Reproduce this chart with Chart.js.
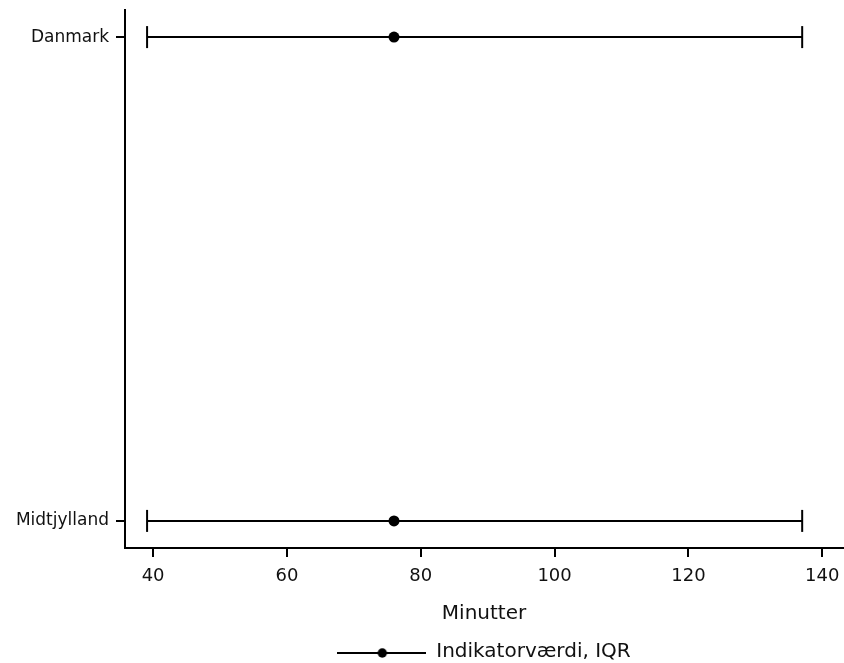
<!DOCTYPE html>
<html><head><meta charset="utf-8">
<script src="https://cdn.jsdelivr.net/npm/chart.js@4/dist/chart.umd.min.js"></script>
<style>html,body{margin:0;padding:0;background:#fff}#wrap{width:844px;height:663px}</style>
</head><body><div id="wrap"><canvas id="c" width="844" height="663"></canvas></div>
<script>
const categories = ['Danmark', 'Midtjylland'];
const medians = [76, 76];
const q1 = [39.1, 39.1];
const q3 = [137, 137];
const xTicks = [40, 60, 80, 100, 120, 140];
const seriesLabel = 'Indikatorværdi, IQR';
const xTitle = 'Minutter';

const FONT = 'DejaVu Sans';

// legend symbol: line with dot
const sym = document.createElement('canvas');
sym.width = 89; sym.height = 16;
(function(){const g=sym.getContext('2d');g.strokeStyle='#000';g.lineWidth=2;g.beginPath();g.moveTo(0,9);g.lineTo(89,9);g.stroke();g.fillStyle='#000';g.beginPath();g.arc(45,9,4.7,0,Math.PI*2);g.fill();})();

const datasets = [];
categories.forEach((c,i)=>{
  datasets.push({
    type:'line', label:'iqr'+i,
    data:[{x:q1[i],y:i},{x:q3[i],y:i}],
    borderColor:'#000', borderWidth:2, showLine:true,
    pointStyle:'line', pointRotation:90, pointRadius:11,
    pointBorderWidth:2, pointBorderColor:'#000', pointBackgroundColor:'#000'
  });
});
datasets.push({
  type:'scatter', label:seriesLabel,
  data:categories.map((c,i)=>({x:medians[i],y:i})),
  pointStyle:'circle', pointRadius:5.5, backgroundColor:'#000', borderColor:'#000', borderWidth:0
});

const legendShift = {
  id:'legendShift',
  afterLayout(chart){
    if(chart.legend){ chart.legend.left = chart.chartArea.left; chart.legend.right = chart.chartArea.right; }
  }
};

new Chart(document.getElementById('c'), {
  type:'scatter',
  data:{datasets},
  plugins:[legendShift],
  options:{
    responsive:false, animation:false, events:[],
    layout:{autoPadding:false, padding:{left:0,right:1,top:10,bottom:-9}},
    scales:{
      x:{
        type:'linear', min:35.8, max:143.1,
        afterBuildTicks:(s)=>{s.ticks = xTicks.map(v=>({value:v}));},
        afterFit:(s)=>{s.height = 92; s.paddingLeft = 0; s.paddingRight = 0;},
        grid:{display:true, drawOnChartArea:false, drawTicks:true, tickLength:9, color:'#000', lineWidth:2},
        border:{display:true, color:'#000', width:2},
        ticks:{color:'#111', font:{family:FONT,size:18}, padding:9, maxRotation:0},
        title:{display:true, text:xTitle, color:'#111', font:{family:FONT,size:20}, padding:{top:8,bottom:14}}
      },
      y:{
        type:'linear', min:-0.056, max:1.056, reverse:true,
        afterBuildTicks:(s)=>{s.ticks = categories.map((c,i)=>({value:i}));},
        afterFit:(s)=>{s.width = 125; s.paddingTop = 0; s.paddingBottom = 0;},
        grid:{display:true, drawOnChartArea:false, drawTicks:true, tickLength:9, color:'#000', lineWidth:2},
        border:{display:true, color:'#000', width:2},
        ticks:{color:'#111', font:{family:FONT,size:17}, padding:7, callback:(v)=>categories[v]}
      }
    },
    plugins:{
      tooltip:{enabled:false},
      legend:{
        display:true, position:'bottom',
        labels:{
          color:'#111', font:{family:FONT,size:20}, usePointStyle:true, pointStyleWidth:89, padding:2,
          generateLabels:(chart)=>[{text:seriesLabel, pointStyle:sym, fillStyle:'#000', strokeStyle:'#000', lineWidth:0, hidden:false, datasetIndex:2, fontColor:'#111'}]
        }
      }
    }
  }
});
</script></body></html>
